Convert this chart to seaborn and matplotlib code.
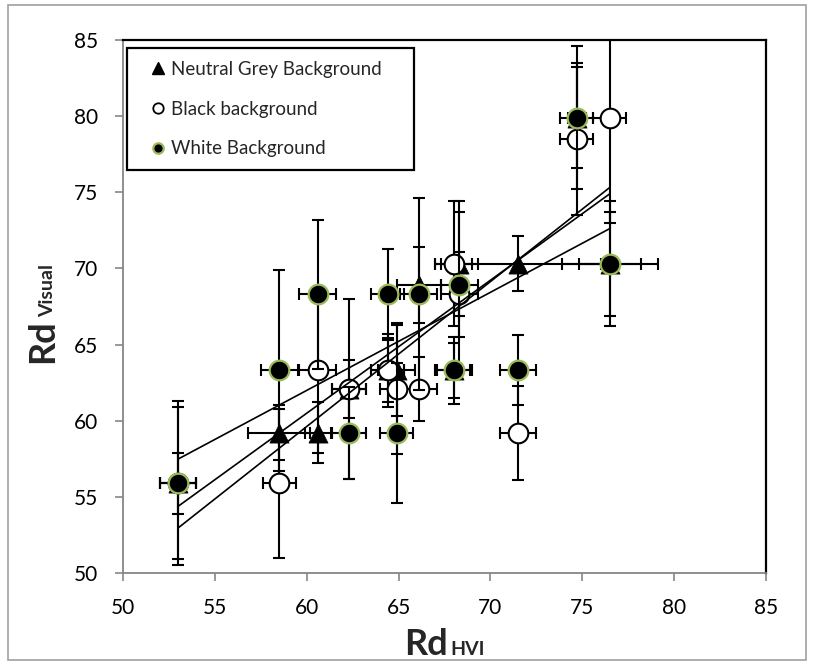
import numpy as np
import pandas as pd
import seaborn as sns
import matplotlib
matplotlib.use("Agg")
import matplotlib.pyplot as plt
from matplotlib.lines import Line2D
from matplotlib.patches import Rectangle

# ---------------- data ----------------
series_names = ["Neutral Grey Background", "Black background", "White Background"]

grey_x    = [53.0, 58.5, 60.6, 62.3, 64.4, 64.9, 66.1, 68.0, 68.3, 71.5, 74.7, 76.5]
grey_y    = [55.9, 59.2, 59.2, 62.1, 63.3, 63.3, 68.9, 63.3, 70.3, 70.3, 79.9, 70.3]
grey_xerr = [1.0, 1.7, 0.7, 0.9, 0.9, 1.0, 1.2, 0.9, 1.0, 4.5, 0.5, 1.7]
grey_yerr = [5.0, 1.8, 2.0, 1.9, 2.1, 3.0, 2.5, 2.2, 3.4, 1.8, 3.3, 3.4]

black_x    = [53.0, 58.5, 60.6, 62.3, 64.4, 64.9, 66.1, 68.0, 68.3, 71.5, 74.7, 76.5]
black_y    = [55.9, 55.9, 63.3, 62.1, 63.3, 62.1, 62.1, 70.3, 68.3, 59.2, 78.5, 79.9]
black_xerr = [1.0, 0.9, 1.0, 0.9, 0.9, 0.9, 1.0, 1.0, 1.0, 1.0, 0.9, 0.9]
black_yerr = [2.0, 4.9, 5.4, 5.9, 2.4, 4.3, 2.1, 4.1, 2.8, 3.1, 5.0, 6.9]

white_x    = [53.0, 58.5, 60.6, 62.3, 64.4, 64.9, 66.1, 68.0, 68.3, 71.5, 74.7, 76.5]
white_y    = [55.9, 63.3, 68.3, 59.2, 68.3, 59.2, 68.3, 63.3, 68.9, 63.3, 79.9, 70.3]
white_xerr = [1.0, 1.0, 1.0, 0.9, 0.9, 0.9, 1.0, 1.0, 1.0, 1.0, 0.9, 2.6]
white_yerr = [5.4, 6.6, 4.9, 3.0, 3.0, 4.6, 6.3, 1.8, 5.5, 2.3, 4.7, 4.1]

x_ticks = [50, 55, 60, 65, 70, 75, 80, 85]
y_ticks = [50, 55, 60, 65, 70, 75, 80, 85]

# ---------------- style ----------------
sns.set_theme(style="white")
plt.rcParams["font.family"] = ["Lato", "DejaVu Sans"]

GREEN = "#9BBB59"
AXGREY = "#868686"

fig = plt.figure(figsize=(8.14, 6.64), dpi=100)
W, H = 814, 664
ax = fig.add_axes([123 / W, 1 - 573 / H, (766 - 123) / W, (573 - 40) / H])

specs = [
    (grey_x, grey_y, grey_xerr, grey_yerr, dict(marker="^", s=190, color="black", edgecolor="black", linewidth=0.5)),
    (black_x, black_y, black_xerr, black_yerr, dict(marker="o", s=200, color="white", edgecolor="black", linewidth=1.5)),
    (white_x, white_y, white_xerr, white_yerr, dict(marker="o", s=200, color="black", edgecolor=GREEN, linewidth=1.6)),
]

z = 2
for name, (xs, ys, xe, ye, mk) in zip(series_names, specs):
    df = pd.DataFrame({"x": xs, "y": ys})
    ax.errorbar(xs, ys, xerr=xe, yerr=ye, fmt="none", ecolor="black",
                elinewidth=1.5, capsize=4.3, capthick=1.5, zorder=z)
    sns.scatterplot(data=df, x="x", y="y", ax=ax, zorder=z + 1, legend=False, **mk)
    z += 2

for xs, ys in [(grey_x, grey_y), (black_x, black_y), (white_x, white_y)]:
    df = pd.DataFrame({"x": xs, "y": ys})
    sns.regplot(data=df, x="x", y="y", ax=ax, scatter=False, ci=None, truncate=True,
                line_kws=dict(color="black", linewidth=1.2, zorder=20))

ax.set_xlim(50, 85)
ax.set_ylim(50, 85)
ax.set_xticks(x_ticks)
ax.set_yticks(y_ticks)
ax.set_xticklabels([str(t) for t in x_ticks])
ax.set_yticklabels([str(t) for t in y_ticks])
ax.set_xlabel("")
ax.set_ylabel("")
ax.tick_params(axis="both", direction="out", length=6, width=1.2, color=AXGREY,
               labelsize=15, pad=12, labelcolor="black")
ax.tick_params(axis="both", bottom=True, left=True)
for side in ["left", "bottom"]:
    ax.spines[side].set_color(AXGREY)
    ax.spines[side].set_linewidth(1.3)
for side in ["top", "right"]:
    ax.spines[side].set_color("black")
    ax.spines[side].set_linewidth(1.6)

# legend
handles = [
    Line2D([], [], linestyle="none", marker="^", markersize=9, color="black"),
    Line2D([], [], linestyle="none", marker="o", markersize=7.5, markerfacecolor="white",
           markeredgecolor="black", markeredgewidth=1.3),
    Line2D([], [], linestyle="none", marker="o", markersize=7.5, markerfacecolor="black",
           markeredgecolor=GREEN, markeredgewidth=1.6),
]
leg_w = (414 - 127) / (766 - 123)
leg = ax.legend(handles, series_names, loc="upper left",
                bbox_to_anchor=(0.006, 0.985 - 0.3, leg_w, 0.3), mode="expand",
                borderaxespad=0, frameon=True, fancybox=False, fontsize=13.5,
                handlelength=2.0, handletextpad=-0.3, labelspacing=1.22, borderpad=0.68)
leg.get_frame().set_edgecolor("black")
leg.get_frame().set_linewidth(1.6)
leg.get_frame().set_alpha(1)
leg.set_zorder(30)

# axis labels (Rd + smaller qualifier on same baseline)
fig.text(404 / W, 1 - 655 / H, "Rd", fontsize=26, fontweight="bold", ha="left", va="baseline")
fig.text(450 / W, 1 - 655 / H, "HVI", fontsize=14, fontweight="bold", ha="left", va="baseline")
fig.text(53 / W, 1 - 363 / H, "Rd", fontsize=26, fontweight="bold", rotation=90,
         rotation_mode="anchor", ha="left", va="baseline")
fig.text(53 / W, 1 - 317 / H, "Visual", fontsize=14, fontweight="bold", rotation=90,
         rotation_mode="anchor", ha="left", va="baseline")

# outer chart border
fig.patches.append(Rectangle((8 / W, 1 - 660 / H), (806 - 8) / W, (660 - 5) / H,
                             transform=fig.transFigure, fill=False, edgecolor="#A0A0A0",
                             linewidth=1.2))

fig.savefig("out.png", dpi=100)
